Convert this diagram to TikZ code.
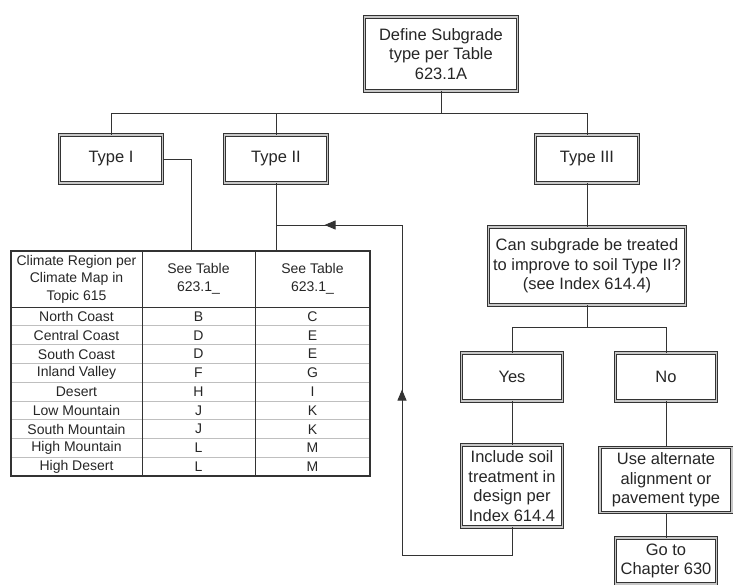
\documentclass[tikz,border=0pt]{standalone}
\usepackage{fontspec}
\setmainfont{Liberation Sans}
\usetikzlibrary{arrows.meta,decorations.markings}
\tikzset{
  box/.style={draw=black!80, double=black!22, double distance=1.6pt, line width=0.9pt,
    align=center, inner sep=1pt, text=black!85, font=\fontsize{16.5}{19.5}\selectfont},
  cell/.style={inner sep=0pt, align=center, text=black!85, font=\fontsize{14}{17.5}\selectfont},
  link/.style={draw=black!80, line width=0.9pt},
  rowline/.style={draw=black!25, line width=0.8pt},
  colline/.style={draw=black!80, line width=0.9pt},
  loopback/.style={postaction={decorate}, decoration={markings,
    mark=at position 303pt with {\arrow{Triangle[length=11pt,width=9pt]}},
    mark=at position 545pt with {\arrow{Triangle[length=11pt,width=9pt]}}}}
}
\begin{document}
\begin{tikzpicture}[x=1pt,y=-1pt]
\useasboundingbox (0,0) rectangle (733,585);
% boxes
\node[box, minimum width=153, minimum height=74] (define) at (441,54) {Define Subgrade\\type per Table\\623.1A};
\node[box, minimum width=103, minimum height=48] (type1) at (111,159) {Type I};
\node[box, minimum width=103, minimum height=48] (type2) at (276,159) {Type II};
\node[box, minimum width=103, minimum height=48] (type3) at (587,159) {Type III};
\node[box, minimum width=197, minimum height=78] (question) at (587,266) {Can subgrade be treated\\to improve to soil Type II?\\(see Index 614.4)};
\node[box, minimum width=101, minimum height=48] (yes) at (512,377) {Yes};
\node[box, minimum width=101, minimum height=48] (no) at (666,377) {No};
\node[box, minimum width=101, minimum height=82] (include) at (512,486) {Include soil\\treatment in\\design per\\Index 614.4};
\node[box, minimum width=132, minimum height=65] (alt) at (666,480) {Use alternate\\alignment or\\pavement type};
\node[box, minimum width=101, minimum height=46] (goto) at (666,561) {Go to\\Chapter 630};
% table
\foreach \k in {1,...,8}
  \draw[rowline] (11,{307+18.8*\k}) -- (370,{307+18.8*\k});
\draw[colline] (11,307) -- (370,307);
\draw[colline] (142,251) -- (142,476);
\draw[colline] (255,251) -- (255,476);
\draw[draw=black!80, line width=1.5pt] (11,251) rectangle (370,476);
\node[cell] (hdrA) at (76.5,279) {Climate Region per\\Climate Map in\\Topic 615};
\node[cell] (hdrB) at (198.5,279) {See Table\\623.1\_};
\node[cell] (hdrC) at (312.5,279) {See Table\\623.1\_};
\foreach \reg/\colb/\colc [count=\i] in {North Coast/B/C, Central Coast/D/E, South Coast/D/E,
    Inland Valley/F/G, Desert/H/I, Low Mountain/J/K, South Mountain/J/K, High Mountain/L/M, High Desert/L/M} {
  \node[cell] (reg\i) at (76.5,{297.6+18.8*\i}) {\reg};
  \node[cell] (tb\i) at (198.5,{297.6+18.8*\i}) {\colb};
  \node[cell] (tc\i) at (312.5,{297.6+18.8*\i}) {\colc};
}
% connectors
\coordinate (bus) at (441,113);
\coordinate (tab1) at (191,251);
\coordinate (tab2) at (276,251);
\coordinate (qbus) at (587,327);
\coordinate (loopR) at (402,555);
\coordinate (loopT) at (402,225);
\coordinate (join) at (276,225);
\draw[link] (define.south) -- (bus) -| (type1.north);
\draw[link] (bus) -| (type2.north);
\draw[link] (bus) -| (type3.north);
\draw[link] (type1.east) -| (tab1);
\draw[link] (type2.south) -- (tab2);
\draw[link] (type3.south) -- (question.north);
\draw[link] (question.south) -- (qbus) -| (yes.north);
\draw[link] (qbus) -| (no.north);
\draw[link] (yes.south) -- (include.north);
\draw[link] (no.south) -- (alt.north);
\draw[link] (alt.south) -- (goto.north);
\draw[link, loopback] (include.south) |- (loopR) -- (loopT) -- (join);
\end{tikzpicture}
\end{document}
